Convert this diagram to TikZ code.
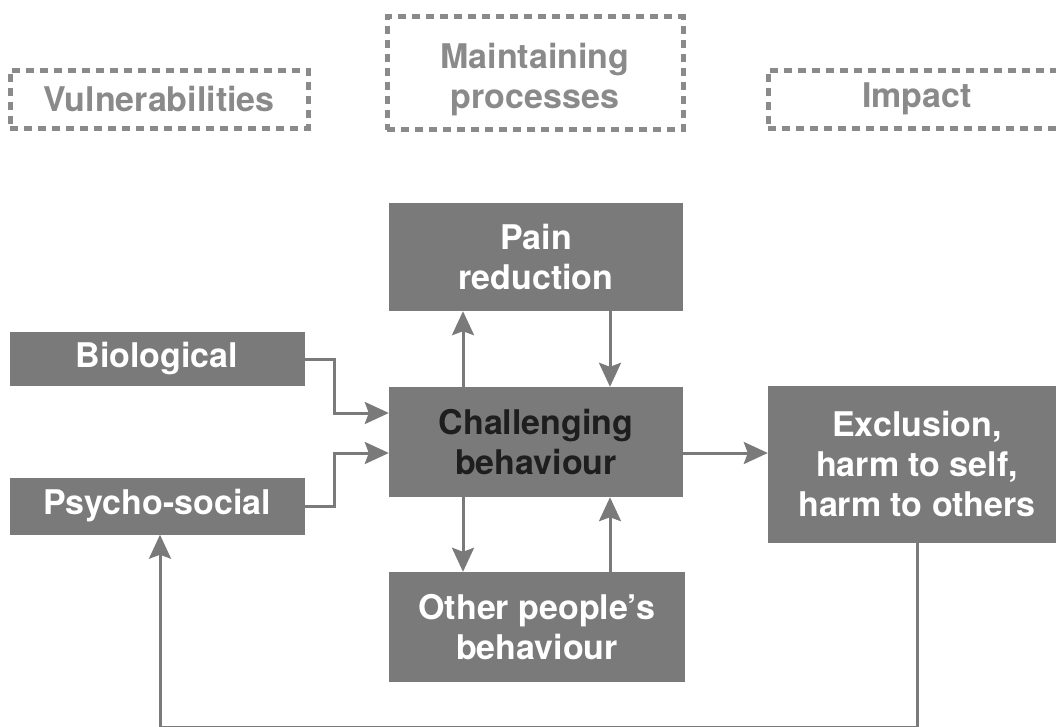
\documentclass[tikz,border=0pt]{standalone}
\usepackage{fontspec}
\setmainfont{TeX Gyre Heros}
\usetikzlibrary{arrows.meta}
\definecolor{boxgray}{HTML}{7A7A7A}
\definecolor{headgray}{HTML}{8A8A8A}
\definecolor{darktext}{HTML}{1E1E1E}
\begin{document}
\begin{tikzpicture}[x=1pt, y=-1pt,
    box/.style={rectangle, fill=boxgray, draw=none, align=center, inner sep=0pt,
                text=white, font=\fontsize{34}{40}\selectfont\bfseries},
    head/.style={rectangle, draw=headgray, line width=5pt, dash pattern=on 8pt off 6pt,
                 align=center, inner sep=0pt, text=headgray, font=\fontsize{34}{40}\selectfont\bfseries},
    arr/.style={-{Stealth[length=24pt, width=22pt, inset=4pt]}, draw=boxgray, line width=3pt},
    lin/.style={draw=boxgray, line width=3pt},
  ]
  \useasboundingbox (0,0) rectangle (1056,726);

  % Column headings
  \node[head, minimum width=298pt, minimum height=58pt] (vul) at (159, 99) {Vulnerabilities};
  \node[head, minimum width=296pt, minimum height=113pt] (mnt) at (535, 73) {\rule{0pt}{38pt}Maintaining\\processes};
  \node[head, minimum width=298pt, minimum height=58pt] (imp) at (917, 99) {Impact};

  % Vulnerabilities
  \node[box, minimum width=295pt, minimum height=54pt] (bio) at (157, 359) {Biological};
  \node[box, minimum width=295pt, minimum height=57pt] (psy) at (157, 506) {Psycho-social};

  % Maintaining processes
  \node[box, minimum width=294pt, minimum height=108pt] (pain) at (536, 257) {Pain\\reduction};
  \node[box, minimum width=294pt, minimum height=110pt, text=darktext] (chal) at (536, 442) {Challenging\\behaviour};
  \node[box, minimum width=296pt, minimum height=110pt] (oth) at (537, 627) {Other people's\\behaviour};

  % Impact
  \node[box, minimum width=298pt, minimum height=157pt] (exc) at (917, 464) {Exclusion,\\harm to self,\\harm to others};

  % Vulnerabilities into behaviour
  \draw[arr] (bio.east) -- ++(30,0) |- ([yshift=29pt]chal.west);
  \draw[arr] (psy.east) -- ++(30,0) |- ([yshift=-11pt]chal.west);

  % Maintaining loops
  \draw[arr] ([xshift=-73pt]chal.north) -- ([xshift=-73pt]pain.south);
  \draw[arr] ([xshift=74pt]pain.south) -- ([xshift=74pt]chal.north);
  \draw[arr] ([xshift=-73pt]chal.south) -- ([xshift=-74pt]oth.north);
  \draw[arr] ([xshift=73pt]oth.north) -- ([xshift=74pt]chal.south);

  % Impact
  \draw[arr] ([yshift=-11pt]chal.east) -- ([yshift=11pt]exc.west);

  % Feedback loop
  \coordinate (fb) at (917, 727);
  \draw[lin] (exc.south) -- (fb);
  \draw[arr] (fb) -| ([xshift=3pt]psy.south);

\end{tikzpicture}
\end{document}
